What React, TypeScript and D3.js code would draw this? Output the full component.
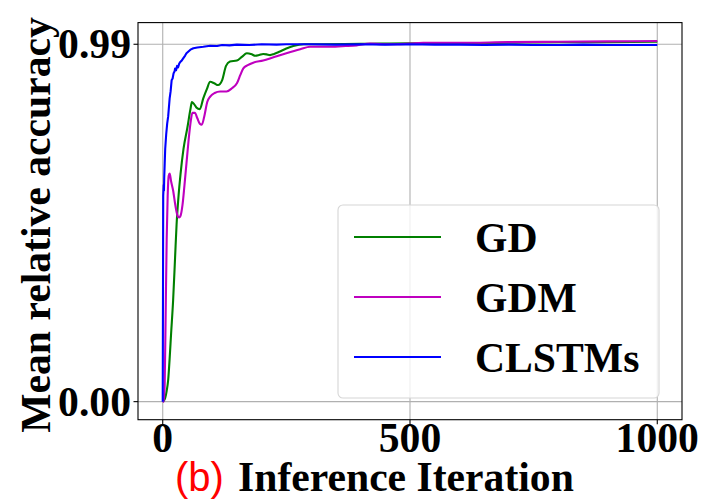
import React, {useEffect, useRef} from 'react'
import * as d3 from 'd3'

// iteration / mean relative accuracy
const gdData: [number, number][] = [
  [0, 0], [2, 0.002], [5, 0.01], [8, 0.03], [11, 0.06], [14, 0.12], [17, 0.19],
  [21, 0.28], [25, 0.4], [28, 0.49], [32, 0.57], [36, 0.63], [42, 0.7], [50, 0.76],
  [56, 0.81], [59, 0.83], [63, 0.825], [68, 0.815], [75, 0.81], [82, 0.84],
  [89, 0.865], [96, 0.886], [104, 0.882], [112, 0.877], [120, 0.89], [128, 0.93],
  [136, 0.942], [150, 0.945], [160, 0.955], [170, 0.965], [180, 0.962], [187, 0.958],
  [195, 0.96], [203, 0.963], [210, 0.962], [217, 0.96], [225, 0.963], [237, 0.97],
  [250, 0.978], [264, 0.985], [285, 0.99], [320, 0.99], [400, 0.991], [500, 0.993],
  [600, 0.992], [700, 0.994], [800, 0.996], [900, 0.996], [1000, 0.997],
]

const gdmData: [number, number][] = [
  [0, 0], [2, 0.0], [4, 0.05], [6, 0.25], [8, 0.45], [10, 0.57], [12, 0.625],
  [14, 0.632], [17, 0.61], [21, 0.585], [26, 0.54], [30, 0.515], [33, 0.51],
  [36, 0.515], [40, 0.545], [44, 0.6], [48, 0.66], [52, 0.72], [56, 0.77],
  [60, 0.8], [65, 0.8], [70, 0.785], [75, 0.77], [79, 0.767], [84, 0.79],
  [90, 0.83], [96, 0.845], [105, 0.855], [116, 0.859], [129, 0.859], [140, 0.868],
  [150, 0.882], [157, 0.905], [163, 0.923], [172, 0.932], [183, 0.939], [203, 0.945],
  [224, 0.954], [250, 0.965], [278, 0.976], [298, 0.983], [320, 0.983], [338, 0.983],
  [370, 0.985], [392, 0.987], [419, 0.992], [445, 0.99], [473, 0.99], [500, 0.992],
  [527, 0.994], [600, 0.994], [700, 0.996], [800, 0.997], [900, 0.998], [1000, 0.999],
]

const clstmData: [number, number][] = [
  [0, 0], [1, 0.57], [2, 0.6], [2.5, 0.585], [3, 0.62], [4, 0.66], [5, 0.7],
  [7, 0.74], [9, 0.77], [11, 0.79], [14, 0.84], [16, 0.86], [18, 0.89], [20, 0.895],
  [22, 0.91], [24, 0.915], [25, 0.923], [27, 0.918], [29, 0.93], [31, 0.926],
  [33, 0.935], [35, 0.94], [38, 0.944], [41, 0.95], [45, 0.958], [48, 0.965],
  [52, 0.97], [56, 0.975], [62, 0.979], [70, 0.981], [82, 0.983], [96, 0.986],
  [110, 0.985], [120, 0.988], [135, 0.987], [150, 0.989], [175, 0.988], [200, 0.99],
  [230, 0.989], [250, 0.99], [300, 0.99], [350, 0.989], [400, 0.99], [450, 0.989],
  [500, 0.99], [550, 0.989], [600, 0.989], [650, 0.988], [700, 0.989], [750, 0.988],
  [800, 0.988], [850, 0.989], [900, 0.988], [950, 0.988], [1000, 0.988],
]

const seriesNames = ['GD', 'GDM', 'CLSTMs']
const seriesColors = ['#008000', '#bf00bf', '#0000ff']
const xTicks = [0, 500, 1000]
const yTicks = [0, 0.99]
const yTickLabels = ['0.00', '0.99']

const W = 702
const H = 502
const serif = '"Liberation Serif", "Times New Roman", serif'
const sans = '"Liberation Sans", Arial, sans-serif'
const fs = 41.67

const App = () => {
  const ref = useRef<SVGSVGElement>(null)

  useEffect(() => {
    const svg = d3.select(ref.current)
    svg.selectAll('*').remove()

    const x = d3.scaleLinear().domain([-50, 1050]).range([138, 682])
    const y = d3.scaleLinear().domain([-0.05, 1.05]).range([419.7, 22.6])

    // grid
    const grid = svg.append('g').attr('stroke', '#b0b0b0').attr('stroke-width', 1.1)
    grid.selectAll('.gx').data(xTicks).join('line')
      .attr('x1', d => x(d)).attr('x2', d => x(d))
      .attr('y1', y(1.05)).attr('y2', y(-0.05))
    grid.selectAll('.gy').data(yTicks).join('line')
      .attr('y1', d => y(d)).attr('y2', d => y(d))
      .attr('x1', x(-50)).attr('x2', x(1050))

    // lines
    const allData = [gdData, gdmData, clstmData]
    allData.forEach((data, i) => {
      const line = d3.line<[number, number]>()
        .x(d => x(d[0])).y(d => y(d[1]))
        .curve(i === 2 ? d3.curveLinear : d3.curveMonotoneX)
      svg.append('path')
        .attr('d', line(data))
        .attr('fill', 'none')
        .attr('stroke', seriesColors[i])
        .attr('stroke-width', 2.1)
        .attr('stroke-linejoin', 'round')
    })

    // spines
    svg.append('rect')
      .attr('x', x(-50)).attr('y', y(1.05))
      .attr('width', x(1050) - x(-50)).attr('height', y(-0.05) - y(1.05))
      .attr('fill', 'none').attr('stroke', '#000').attr('stroke-width', 1.1)

    // ticks
    svg.selectAll('.tx').data(xTicks).join('line')
      .attr('x1', d => x(d)).attr('x2', d => x(d))
      .attr('y1', y(-0.05)).attr('y2', y(-0.05) + 4.5)
      .attr('stroke', '#000').attr('stroke-width', 1.1)
    svg.selectAll('.ty').data(yTicks).join('line')
      .attr('y1', d => y(d)).attr('y2', d => y(d))
      .attr('x1', x(-50)).attr('x2', x(-50) - 4.5)
      .attr('stroke', '#000').attr('stroke-width', 1.1)

    svg.selectAll('.lx').data(xTicks).join('text')
      .attr('x', d => x(d)).attr('y', 452)
      .attr('text-anchor', 'middle')
      .attr('font-family', serif).attr('font-weight', 'bold').attr('font-size', fs)
      .text(d => d)
    svg.selectAll('.ly').data(yTicks).join('text')
      .attr('x', 131).attr('y', d => y(d) + 14)
      .attr('text-anchor', 'end')
      .attr('font-family', serif).attr('font-weight', 'bold').attr('font-size', fs)
      .text((d, i) => yTickLabels[i])

    // axis labels
    svg.append('text')
      .attr('transform', 'translate(50,225) rotate(-90)')
      .attr('text-anchor', 'middle')
      .attr('font-family', serif).attr('font-weight', 'bold').attr('font-size', fs)
      .text('Mean relative accuracy')

    svg.append('text')
      .attr('x', 175).attr('y', 491)
      .attr('font-family', sans).attr('font-size', 40).attr('fill', '#ff0000')
      .text('(b)')
    svg.append('text')
      .attr('x', 238).attr('y', 491)
      .attr('font-family', serif).attr('font-weight', 'bold').attr('font-size', fs)
      .text('Inference Iteration')

    // legend
    const lg = svg.append('g')
    lg.append('rect')
      .attr('x', 338).attr('y', 205).attr('width', 321).attr('height', 193)
      .attr('rx', 5).attr('ry', 5)
      .attr('fill', 'rgba(255,255,255,0.8)')
      .attr('stroke', '#d6d6d6').attr('stroke-width', 1.1)
    seriesNames.forEach((name, i) => {
      const cy = 237 + i * 60
      lg.append('line')
        .attr('x1', 354).attr('x2', 441).attr('y1', cy).attr('y2', cy)
        .attr('stroke', seriesColors[i]).attr('stroke-width', 2.1)
      lg.append('text')
        .attr('x', 475).attr('y', cy + 15)
        .attr('font-family', serif).attr('font-weight', 'bold').attr('font-size', fs)
        .text(name)
    })
  }, [])

  return <svg ref={ref} width={W} height={H}
    style={{position: 'absolute', left: 0, top: 0, background: '#fff'}} />
}

export default App
